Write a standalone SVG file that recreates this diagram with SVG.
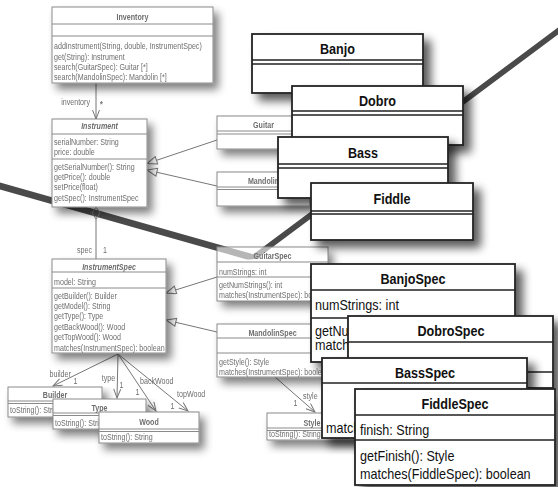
<svg xmlns="http://www.w3.org/2000/svg" width="558" height="487" viewBox="0 0 558 487">
<defs>
<style>
.t{font-family:"Liberation Sans",Arial,sans-serif;font-size:9px;fill:#6e6e6e;opacity:.999}
.tb{font-weight:bold}
.ti{font-weight:bold;font-style:italic}
.T{font-family:"Liberation Sans",Arial,sans-serif;font-size:14px;fill:#111}
.TB{font-weight:bold}
.sbox{fill:#fff;stroke:#8a8a8a;stroke-width:1}
.sl{stroke:#8a8a8a;stroke-width:1;fill:none}
.bbox{fill:#fff;stroke:#222;stroke-width:1.8}
.bl{stroke:#222;stroke-width:1.6;fill:none}
.c{stroke:#777;stroke-width:1;fill:none}
</style>
<filter id="sh" x="-20%" y="-20%" width="150%" height="170%">
<feGaussianBlur in="SourceAlpha" stdDeviation="4"/>
<feOffset dx="5" dy="6"/>
<feComponentTransfer><feFuncA type="linear" slope="0.5"/></feComponentTransfer>
<feMerge><feMergeNode/><feMergeNode in="SourceGraphic"/></feMerge>
</filter>
<filter id="shb" x="-20%" y="-25%" width="150%" height="180%">
<feGaussianBlur in="SourceAlpha" stdDeviation="5"/>
<feOffset dx="7" dy="7"/>
<feComponentTransfer><feFuncA type="linear" slope="0.65"/></feComponentTransfer>
<feMerge><feMergeNode/><feMergeNode in="SourceGraphic"/></feMerge>
</filter>
<marker id="tri" markerUnits="userSpaceOnUse" markerWidth="12" markerHeight="10" refX="11" refY="4.5" orient="auto"><path d="M1,0.5 L11,4.5 L1,8.5 Z" fill="#fff" stroke="#777"/></marker>
<marker id="open" markerUnits="userSpaceOnUse" markerWidth="11" markerHeight="9" refX="10" refY="4" orient="auto"><path d="M1,0.5 L10,4 L1,7.5" fill="none" stroke="#777"/></marker>
</defs>
<rect width="558" height="487" fill="#fff"/>

<rect id="guitarspec-shadow" x="217" y="247" width="111" height="54" fill="#fff" filter="url(#sh)"/>

<path id="swoosh" d="M -1.1,182.3 L 253.2,254.3 L 558.3,27.25 L 561.7,31.75 L 262,255 Q 253.4,261.2 245,258.9 L -2.9,188.7 Z" fill="#4a4a4a"/>

<g id="connectors">
<line class="c" x1="96" y1="83" x2="96" y2="119" marker-end="url(#open)"/>
<path class="c" d="M96,207 L100,213 L96,219 L92,213 Z" fill="#fff"/>
<line class="c" x1="96" y1="219" x2="96" y2="259"/>
<line class="c" x1="217" y1="140" x2="147" y2="163.5" marker-end="url(#tri)"/>
<line class="c" x1="217" y1="186" x2="147" y2="170" marker-end="url(#tri)"/>
<line class="c" x1="217" y1="277" x2="166" y2="293" marker-end="url(#tri)"/>
<line class="c" x1="217" y1="332" x2="166" y2="320" marker-end="url(#tri)"/>
<line class="c" x1="118" y1="354" x2="53" y2="386" marker-end="url(#open)"/>
<line class="c" x1="118" y1="354" x2="117" y2="398" marker-end="url(#open)"/>
<line class="c" x1="118" y1="354" x2="156" y2="411" marker-end="url(#open)"/>
<line class="c" x1="118" y1="354" x2="188" y2="411" marker-end="url(#open)"/>
<line class="c" x1="275" y1="377" x2="315" y2="412" marker-end="url(#open)"/>
<text class="t" text-anchor="end" transform="matrix(.79 0 0 1 90 105)">inventory</text>
<text class="t tb" transform="matrix(.79 0 0 1 100 107)">*</text>
<text class="t" text-anchor="end" transform="matrix(.79 0 0 1 92 253)">spec</text>
<text class="t" transform="matrix(.79 0 0 1 103 253)">1</text>
<text class="t" transform="matrix(.79 0 0 1 49.5 376.5)">builder</text>
<text class="t" transform="matrix(.79 0 0 1 73.5 384)">1</text>
<text class="t" transform="matrix(.79 0 0 1 101.7 381)">type</text>
<text class="t" transform="matrix(.79 0 0 1 119.5 387.5)">1</text>
<text class="t" transform="matrix(.79 0 0 1 140 383.5)">backWood</text>
<text class="t" transform="matrix(.79 0 0 1 135.5 395)">1</text>
<text class="t" transform="matrix(.79 0 0 1 177 397)">topWood</text>
<text class="t" transform="matrix(.79 0 0 1 170.5 408.5)">1</text>
<text class="t" transform="matrix(.79 0 0 1 303 398.5)">style</text>
<text class="t" transform="matrix(.79 0 0 1 293.5 406)">1</text>
</g>

<g id="inventory">
<rect class="sbox" x="52" y="7" width="161" height="76" filter="url(#sh)"/>
<path class="sl" d="M52,24H213M52,36H213"/>
<text class="t tb" text-anchor="middle" transform="matrix(.79 0 0 1 132.5 19.5)">Inventory</text>
<text class="t" transform="matrix(.79 0 0 1 54 49)">addInstrument(String, double, InstrumentSpec)</text>
<text class="t" transform="matrix(.79 0 0 1 54 59.5)">get(String): Instrument</text>
<text class="t" transform="matrix(.79 0 0 1 54 69.5)">search(GuitarSpec): Guitar [*]</text>
<text class="t" transform="matrix(.79 0 0 1 54 80)">search(MandolinSpec): Mandolin [*]</text>
</g>

<g id="instrument">
<rect class="sbox" x="52" y="119" width="95" height="88" filter="url(#sh)"/>
<path class="sl" d="M52,134H147M52,159H147"/>
<text class="t ti" text-anchor="middle" transform="matrix(.79 0 0 1 99.5 129)">Instrument</text>
<text class="t" transform="matrix(.79 0 0 1 54 145)">serialNumber: String</text>
<text class="t" transform="matrix(.79 0 0 1 54 155)">price: double</text>
<text class="t" transform="matrix(.79 0 0 1 54 169.5)">getSerialNumber(): String</text>
<text class="t" transform="matrix(.79 0 0 1 54 179.5)">getPrice(): double</text>
<text class="t" transform="matrix(.79 0 0 1 54 190)">setPrice(float)</text>
<text class="t" transform="matrix(.79 0 0 1 54 200.5)">getSpec(): InstrumentSpec</text>
</g>

<g id="instrumentspec">
<rect class="sbox" x="52" y="259" width="114" height="94" filter="url(#sh)"/>
<path class="sl" d="M52,272H166M52,288H166"/>
<text class="t ti" text-anchor="middle" transform="matrix(.79 0 0 1 109 269.5)">InstrumentSpec</text>
<text class="t" transform="matrix(.79 0 0 1 54 284.5)">model: String</text>
<text class="t" transform="matrix(.79 0 0 1 54 298.5)">getBuilder(): Builder</text>
<text class="t" transform="matrix(.79 0 0 1 54 308.5)">getModel(): String</text>
<text class="t" transform="matrix(.79 0 0 1 54 319)">getType(): Type</text>
<text class="t" transform="matrix(.79 0 0 1 54 329.5)">getBackWood(): Wood</text>
<text class="t" transform="matrix(.79 0 0 1 54 340)">getTopWood(): Wood</text>
<text class="t" transform="matrix(.79 0 0 1 54 350.5)">matches(InstrumentSpec): boolean</text>
</g>

<g id="guitar">
<rect class="sbox" x="217" y="116" width="93" height="33" filter="url(#sh)"/>
<path class="sl" d="M217,131H310M217,134H310"/>
<text class="t tb" text-anchor="middle" transform="matrix(.79 0 0 1 263.5 127.5)">Guitar</text>
</g>

<g id="mandolin">
<rect class="sbox" x="217" y="172" width="93" height="34" filter="url(#sh)"/>
<path class="sl" d="M217,187H310M217,189.5H310"/>
<text class="t tb" text-anchor="middle" transform="matrix(.79 0 0 1 263.5 184)">Mandolin</text>
</g>

<g id="guitarspec">
<rect x="217" y="247" width="111" height="54" fill="#fff" fill-opacity="0.6" stroke="#8a8a8a"/>
<path class="sl" d="M217,262H328M217,277H328"/>
<text class="t tb" text-anchor="middle" transform="matrix(.79 0 0 1 272.5 258.5)">GuitarSpec</text>
<text class="t" transform="matrix(.79 0 0 1 219 274.5)">numStrings: int</text>
<text class="t" transform="matrix(.79 0 0 1 219 287.5)">getNumStrings(): int</text>
<text class="t" transform="matrix(.79 0 0 1 219 297.5)">matches(InstrumentSpec): boolean</text>
</g>

<g id="mandolinspec">
<rect class="sbox" x="217" y="324" width="111" height="53" filter="url(#sh)"/>
<path class="sl" d="M217,338H328M217,353H328"/>
<text class="t tb" text-anchor="middle" transform="matrix(.79 0 0 1 272.5 335.5)">MandolinSpec</text>
<text class="t" transform="matrix(.79 0 0 1 219 364.5)">getStyle(): Style</text>
<text class="t" transform="matrix(.79 0 0 1 219 374.5)">matches(InstrumentSpec): boolean</text>
</g>

<g id="builder">
<rect class="sbox" x="8" y="387" width="94" height="30" filter="url(#sh)"/>
<path class="sl" d="M8,401H102M8,403.5H102"/>
<text class="t tb" text-anchor="middle" transform="matrix(.79 0 0 1 55 397.5)">Builder</text>
<text class="t" transform="matrix(.79 0 0 1 10 413)">toString(): String</text>
</g>

<g id="type">
<rect class="sbox" x="53" y="399" width="93" height="30" filter="url(#sh)"/>
<path class="sl" d="M53,413H146M53,415.5H146"/>
<text class="t tb" text-anchor="middle" transform="matrix(.79 0 0 1 99.5 410.5)">Type</text>
<text class="t" transform="matrix(.79 0 0 1 55 425.5)">toString(): String</text>
</g>

<g id="wood">
<rect class="sbox" x="99" y="412" width="100" height="31" filter="url(#sh)"/>
<path class="sl" d="M99,429H199M99,431.5H199"/>
<text class="t tb" text-anchor="middle" transform="matrix(.79 0 0 1 149 424.5)">Wood</text>
<text class="t" transform="matrix(.79 0 0 1 101 439.5)">toString(): String</text>
</g>

<g id="style">
<rect class="sbox" x="267" y="413" width="90" height="27" filter="url(#sh)"/>
<path class="sl" d="M267,428H357M267,430.5H357"/>
<text class="t tb" text-anchor="middle" transform="matrix(.79 0 0 1 312 425.5)">Style</text>
<text class="t" transform="matrix(.79 0 0 1 269 437)">toString(): String</text>
</g>

<g id="banjo">
<rect class="bbox" x="252" y="34" width="171" height="59" filter="url(#shb)"/>
<path class="bl" d="M252,60H423M252,64H423"/>
<text class="T TB" text-anchor="middle" transform="matrix(.9 0 0 1 337.5 54)">Banjo</text>
</g>

<g id="dobro">
<rect class="bbox" x="292" y="86" width="171" height="59" filter="url(#shb)"/>
<path class="bl" d="M292,111H463M292,115H463"/>
<text class="T TB" text-anchor="middle" transform="matrix(.9 0 0 1 377.5 105.5)">Dobro</text>
</g>

<g id="bass">
<rect class="bbox" x="278" y="137" width="170" height="61" filter="url(#shb)"/>
<path class="bl" d="M278,164H448M278,168H448"/>
<text class="T TB" text-anchor="middle" transform="matrix(.9 0 0 1 363 158)">Bass</text>
</g>

<g id="fiddle">
<rect class="bbox" x="311" y="183" width="162" height="57" filter="url(#shb)"/>
<path class="bl" d="M311,211H473M311,214H473"/>
<text class="T TB" text-anchor="middle" transform="matrix(.9 0 0 1 392 203.5)">Fiddle</text>
</g>

<g id="banjospec">
<rect class="bbox" x="311" y="264" width="204" height="98" filter="url(#shb)"/>
<path class="bl" d="M311,290H515M311,318H515"/>
<text class="T TB" text-anchor="middle" transform="matrix(.9 0 0 1 413 284)">BanjoSpec</text>
<text class="T" transform="matrix(.9 0 0 1 315 309.5)">numStrings: int</text>
<text class="T" transform="matrix(.9 0 0 1 315 336)">getNumStrings(): int</text>
<text class="T" transform="matrix(.9 0 0 1 315 350)">matches(BanjoSpec): boolean</text>
</g>

<g id="dobrospec">
<rect class="bbox" x="348" y="316" width="205" height="72" filter="url(#shb)"/>
<path class="bl" d="M348,342H553M348,372H553"/>
<text class="T TB" text-anchor="middle" transform="matrix(.9 0 0 1 451 336)">DobroSpec</text>
</g>

<g id="bassspec">
<rect class="bbox" x="322" y="358" width="205" height="80" filter="url(#shb)"/>
<path class="bl" d="M322,383H527"/>
<text class="T TB" text-anchor="middle" transform="matrix(.9 0 0 1 425 378)">BassSpec</text>
<text class="T" transform="matrix(.9 0 0 1 326 432.5)">matches(BassSpec): boolean</text>
</g>

<g id="fiddlespec">
<rect class="bbox" x="355" y="389" width="200" height="96" filter="url(#shb)"/>
<path class="bl" d="M355,415H555M355,440H555"/>
<text class="T TB" text-anchor="middle" transform="matrix(.9 0 0 1 455 408.5)">FiddleSpec</text>
<text class="T" transform="matrix(.9 0 0 1 360 434.5)">finish: String</text>
<text class="T" transform="matrix(.9 0 0 1 360 461)">getFinish(): Style</text>
<text class="T" transform="matrix(.9 0 0 1 360 479)">matches(FiddleSpec): boolean</text>
</g>
</svg>
